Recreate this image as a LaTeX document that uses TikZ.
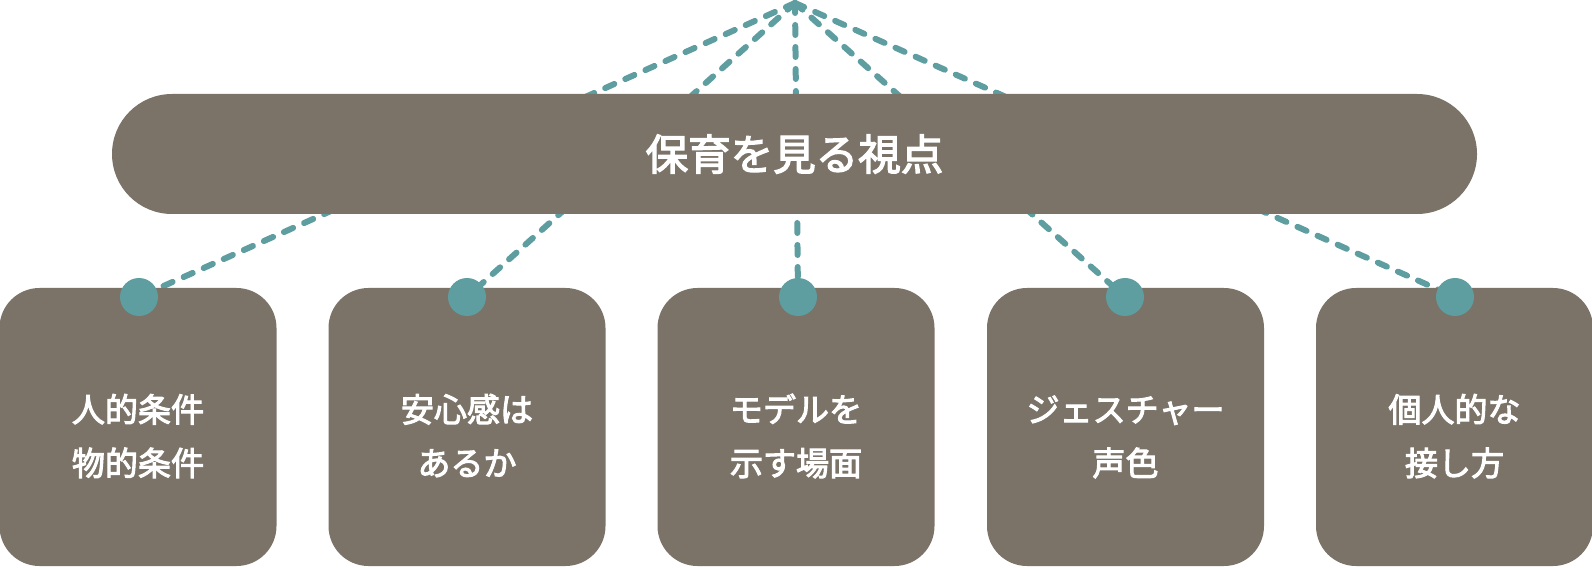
\documentclass[tikz,border=0pt]{standalone}
\usepackage{fontspec}
\usepackage{tikz}
\usetikzlibrary{backgrounds}
\newfontfamily\jpfont{Noto Sans CJK JP}[FakeBold=3]
\definecolor{boxgray}{HTML}{7B7368}
\definecolor{teal}{HTML}{5F9EA0}
\newcommand{\cardtext}[2]{\raisebox{-0.22cm}[\height][\depth]{\begin{tabular}{@{}c@{}}#1\\#2\end{tabular}}}

\tikzset{
  title/.style={fill=boxgray,rounded corners=1.2cm,minimum width=27.3cm,minimum height=2.4cm,
    text=white,font=\jpfont\fontsize{24.2}{28}\selectfont},
  card/.style={fill=boxgray,rounded corners=0.8cm,minimum width=5.54cm,minimum height=5.56cm,
    text=white,font=\jpfont\fontsize{18.8}{30.5}\selectfont},
  dot/.style={circle,fill=teal,minimum size=0.76cm,inner sep=0pt},
  link/.style={teal,line width=0.12cm,line cap=round,dash pattern=on 0.2cm off 0.24cm}
}

\begin{document}
\begin{tikzpicture}
\useasboundingbox (0,0) rectangle (31.84,11.34);
\coordinate (apex) at (15.9,11.28);
\node[title] (view) at (15.89,8.26) {保育を見る視点\hspace{0.44cm}};
\node[card] (b1) at (2.76,2.8) {\cardtext{人的条件}{物的条件}};
\node[card] (b2) at (9.34,2.8) {\cardtext{安心感は}{あるか}};
\node[card] (b3) at (15.92,2.8) {\cardtext{モデルを}{示す場面}};
\node[card] (b4) at (22.51,2.8) {\cardtext{ジェスチャー}{声色}};
\node[card] (b5) at (29.09,2.8) {\cardtext{個人的な}{接し方}};
\node[dot] (d1) at (2.78,5.4) {};
\node[dot] (d2) at (9.34,5.4) {};
\node[dot] (d3) at (15.96,5.4) {};
\node[dot] (d4) at (22.5,5.4) {};
\node[dot] (d5) at (29.1,5.4) {};
% dashed links behind everything
\begin{scope}[on background layer]
\foreach \d in {d1,d2,d3,d4,d5}
  \draw[link] (apex) -- (\d.center);
\end{scope}
\end{tikzpicture}
\end{document}
